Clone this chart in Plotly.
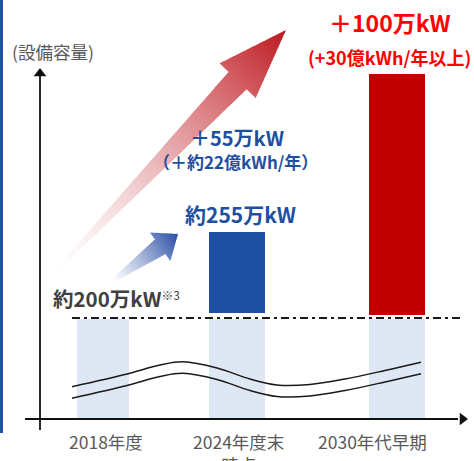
import numpy as np
import plotly.graph_objects as go

# ---------------- data ----------------
categories = ['2018年度', '2024年度末<br>時点', '2030年代早期']
capacity = [200, 255, 355]          # 設備容量 (万kW)
break_value = 200                   # value at the axis break
label_total_2018 = '約200万kW'
label_total_2024 = '約255万kW'
label_add_2024 = '＋55万kW'
label_add_2024_sub = '（＋約22億kWh/年）'
label_add_2030 = '＋100万kW'
label_add_2030_sub = '(+30億kWh/年以上)'
y_title = '(設備容量)'

# ---------------- layout helpers ----------------
W, H = 474, 461
S = 1.58          # px per 万kW above the break
P_BREAK = 318.9   # pixel row of the break value


def val(py):
    return break_value + (P_BREAK - py) / S


def xp(px):
    return px / W


def yp(py):
    return 1 - py / H


FONT = 'Noto Sans CJK JP'
BLUE = '#1F4FA0'
RED = '#C00000'
LIGHT = '#DEE8F4'
GRAY = '#595959'

bar_x = [103, 236.5, 397]
bar_w = [52, 56, 56]
axis_val = val(419)

fig = go.Figure()

# lower (compressed) part of every bar
fig.add_trace(go.Bar(
    x=bar_x, y=[break_value - axis_val] * len(capacity), base=axis_val,
    width=bar_w, marker=dict(color=LIGHT, line=dict(width=0)),
    hoverinfo='skip', showlegend=False))

# upper part (above the break)
upper_idx = [i for i, c in enumerate(capacity) if c > break_value]
up_colors = {1: BLUE, 2: RED}
up_base = {1: val(312.7), 2: val(315)}
fig.add_trace(go.Bar(
    x=[bar_x[i] for i in upper_idx],
    y=[capacity[i] - up_base[i] for i in upper_idx],
    base=[up_base[i] for i in upper_idx],
    width=[bar_w[i] for i in upper_idx],
    marker=dict(color=[up_colors[i] for i in upper_idx], line=dict(width=0)),
    hoverinfo='skip', showlegend=False))

# break mark (two wavy lines)
wave_x = [72, 127, 160, 183, 217, 250, 277, 310, 345, 385, 421]
wave_y = [386.7, 374, 365, 361.8, 368, 379, 385, 384.5, 379, 370.5, 362.3]
for off in (0, 11.5):
    fig.add_trace(go.Scatter(
        x=wave_x, y=[val(v + off) for v in wave_y], mode='lines',
        line=dict(color='#1a1a1a', width=1.5, shape='spline', smoothing=1.0),
        hoverinfo='skip', showlegend=False))

# axis arrow heads
fig.add_trace(go.Scatter(
    x=[40], y=[val(73.5)], mode='markers',
    marker=dict(symbol='triangle-up', size=11, color='#111', line=dict(width=0)),
    hoverinfo='skip', showlegend=False))
fig.add_trace(go.Scatter(
    x=[462.5], y=[val(419)], mode='markers',
    marker=dict(symbol='triangle-right', size=11, color='#111', line=dict(width=0)),
    hoverinfo='skip', showlegend=False))

shapes = []
# left blue band
shapes.append(dict(type='rect', xref='paper', yref='paper',
                   x0=xp(0), x1=xp(3), y0=yp(433), y1=yp(0),
                   fillcolor='#2050A8', line=dict(width=0)))
# dash-dot break line
shapes.append(dict(type='line', xref='paper', yref='paper',
                   x0=xp(72), x1=xp(462), y0=yp(318), y1=yp(318),
                   line=dict(color='#1a1a1a', width=2, dash='8px,4px,3px,4px')))
# axes lines
shapes.append(dict(type='line', xref='paper', yref='paper',
                   x0=xp(40), x1=xp(40), y0=yp(430), y1=yp(76),
                   line=dict(color='#111', width=1.8)))
shapes.append(dict(type='line', xref='paper', yref='paper',
                   x0=xp(25), x1=xp(458), y0=yp(419), y1=yp(419),
                   line=dict(color='#111', width=1.8)))


def gradient_arrow(tail, tip, w_tail, w_shaft, w_head, head_len, rgb, n_shaft, n_head, gamma=1.0):
    tx, ty = tail
    px_, py_ = tip
    L = np.hypot(px_ - tx, py_ - ty)
    d = np.array([(px_ - tx) / L, (py_ - ty) / L])
    nvec = np.array([-d[1], d[0]])
    Lsh = L - head_len
    out = []
    segs = []
    us = np.linspace(0, Lsh, n_shaft + 1)
    for a, b in zip(us[:-1], us[1:]):
        segs.append((a, b, 'shaft'))
    uh = np.linspace(Lsh, L, n_head + 1)
    for a, b in zip(uh[:-1], uh[1:]):
        segs.append((a, b, 'head'))

    def hw(u, kind):
        if kind == 'shaft':
            return w_tail + (w_shaft - w_tail) * u / Lsh
        return w_head * (L - u) / head_len

    for a, b, kind in segs:
        b2 = min(b + 0.7, L) if kind == 'head' else b + 0.7
        if kind == 'shaft':
            b2 = min(b2, Lsh + 0.7)
        wa, wb = hw(a, kind), hw(b2, kind)
        pts = []
        for u, w in ((a, -wa), (b2, -wb), (b2, wb), (a, wa)):
            p = np.array([tx, ty]) + d * u + nvec * w
            pts.append((xp(p[0]), yp(p[1])))
        t = ((a + b) / 2) / L
        f = t ** gamma
        col = tuple(int(round(255 * (1 - f) + c * f)) for c in rgb)
        path = 'M ' + ' L '.join(f'{x:.5f},{y:.5f}' for x, y in pts) + ' Z'
        out.append(dict(type='path', xref='paper', yref='paper', path=path,
                        fillcolor=f'rgb{col}', line=dict(width=0)))
    return out


shapes += gradient_arrow((50, 277), (286, 30), 1.0, 12.5, 25, 70,
                         (190, 24, 32), 90, 20, gamma=1.5)
shapes += gradient_arrow((111, 282), (178, 234), 1.5, 9, 17.5, 22,
                         (40, 76, 165), 40, 10, gamma=1.2)

annotations = []


def txt(text, x, y, size, color, xanchor='center', bold=False):
    annotations.append(dict(
        xref='paper', yref='paper', x=xp(x), y=yp(y), text=f'<b>{text}</b>' if bold else text,
        showarrow=False, xanchor=xanchor, yanchor='middle',
        font=dict(family=FONT, size=size, color=color)))


txt(y_title, 10, 51, 17.5, GRAY, xanchor='left')
txt(label_add_2030, 390, 22, 23, '#FF0000', bold=True)
txt(label_add_2030_sub, 389, 57, 18, '#FF0000', bold=True)
txt(label_add_2024, 237, 137, 20, BLUE, bold=True)
txt(label_add_2024_sub, 235, 161, 17, BLUE, bold=True)
txt(label_total_2024, 240, 214, 21, BLUE, bold=True)
annotations.append(dict(
    xref='paper', yref='paper', x=xp(51), y=yp(298),
    text=f'<b>{label_total_2018}</b><span style="font-size:17px"><sup>※3</sup></span>',
    showarrow=False, xanchor='left', yanchor='middle',
    font=dict(family=FONT, size=20.5, color='#404040')))

cat_label_x = [106, 238.5, 372]
for c, x in zip(categories, cat_label_x):
    annotations.append(dict(
        xref='paper', yref='paper', x=xp(x), y=yp(427), text=c,
        showarrow=False, xanchor='center', yanchor='top',
        font=dict(family=FONT, size=17.5, color=GRAY)))

fig.update_layout(
    width=W, height=H, margin=dict(l=0, r=0, t=0, b=0),
    paper_bgcolor='white', plot_bgcolor='white',
    xaxis=dict(range=[0, W], visible=False, fixedrange=True),
    yaxis=dict(range=[val(H), val(0)], visible=False, fixedrange=True),
    shapes=shapes, annotations=annotations, barmode='overlay', bargap=0,
    showlegend=False)

fig.write_html('out.html')
